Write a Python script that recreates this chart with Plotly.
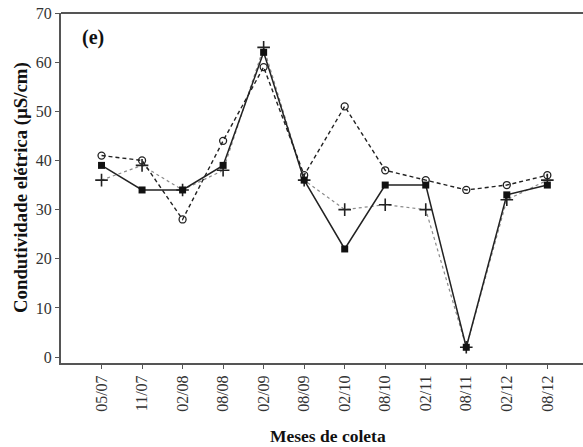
import plotly.graph_objects as go

months = ["05/07", "11/07", "02/08", "08/08", "02/09", "08/09",
          "02/10", "08/10", "02/11", "08/11", "02/12", "08/12"]
serie_quadrado = [39, 34, 34, 39, 62, 36, 22, 35, 35, 2, 33, 35]
serie_circulo = [41, 40, 28, 44, 59, 37, 51, 38, 36, 34, 35, 37]
serie_cruz = [36, 39, 34, 38, 63, 36, 30, 31, 30, 2, 32, 36]
y_ticks = [0, 10, 20, 30, 40, 50, 60, 70]

x_idx = list(range(len(months)))
FONT = "Liberation Serif, Times New Roman, serif"

fig = go.Figure()
fig.add_trace(go.Scatter(
    x=x_idx, y=serie_cruz, mode="lines+markers",
    line=dict(color="#8a8a8a", width=1.2, dash="dot"),
    marker=dict(symbol="cross-thin", size=9, line=dict(color="#222", width=1.6)),
    showlegend=False))
fig.add_trace(go.Scatter(
    x=x_idx, y=serie_circulo, mode="lines+markers",
    line=dict(color="#222", width=1.4, dash="4px,3px"),
    marker=dict(symbol="circle-open", size=7, color="#222", line=dict(width=1.3)),
    showlegend=False))
fig.add_trace(go.Scatter(
    x=x_idx, y=serie_quadrado, mode="lines+markers",
    line=dict(color="#222", width=1.5),
    marker=dict(symbol="square", size=7, color="#111"),
    showlegend=False))

# panel label
fig.add_annotation(x=0.036, y=0.968, xref="paper", yref="paper",
                   text="<b>(e)</b>", showarrow=False,
                   font=dict(family=FONT, size=20, color="#111"),
                   xanchor="left", yanchor="top")

# axis titles
fig.add_annotation(x=0.5115, y=-0.2086, xref="paper", yref="paper",
                   text="<b>Meses de coleta</b>", showarrow=False,
                   font=dict(family=FONT, size=17.5, color="#111"),
                   xanchor="center", yanchor="middle")
fig.add_annotation(x=-0.0766, y=0.5, xref="paper", yref="paper",
                   text="<b>Condutividade elétrica (µS/cm)</b>", showarrow=False,
                   textangle=-90,
                   font=dict(family=FONT, size=18.8, color="#111"),
                   xanchor="center", yanchor="middle")

fig.update_xaxes(
    range=[-1, 11.88], tickmode="array", tickvals=x_idx, ticktext=months,
    tickangle=-90, ticks="outside", ticklen=4, tickcolor="#555",
    showline=True, linecolor="#555", linewidth=2, showgrid=False, zeroline=False,
    tickfont=dict(family=FONT, size=16, color="#333"))
fig.update_yaxes(
    range=[-1.2, 70], tickmode="array", tickvals=y_ticks,
    ticks="outside", ticklen=4, tickcolor="#555",
    showline=True, linecolor="#555", linewidth=2, showgrid=False, zeroline=False,
    tickfont=dict(family=FONT, size=16, color="#333"))

fig.add_shape(type="line", xref="paper", yref="paper", x0=0, x1=1, y0=1, y1=1,
              line=dict(color="#555", width=2))

fig.update_layout(
    width=583, height=447,
    margin=dict(l=61, r=0, t=13, b=84),
    paper_bgcolor="white", plot_bgcolor="white")

fig.write_html("out.html")
